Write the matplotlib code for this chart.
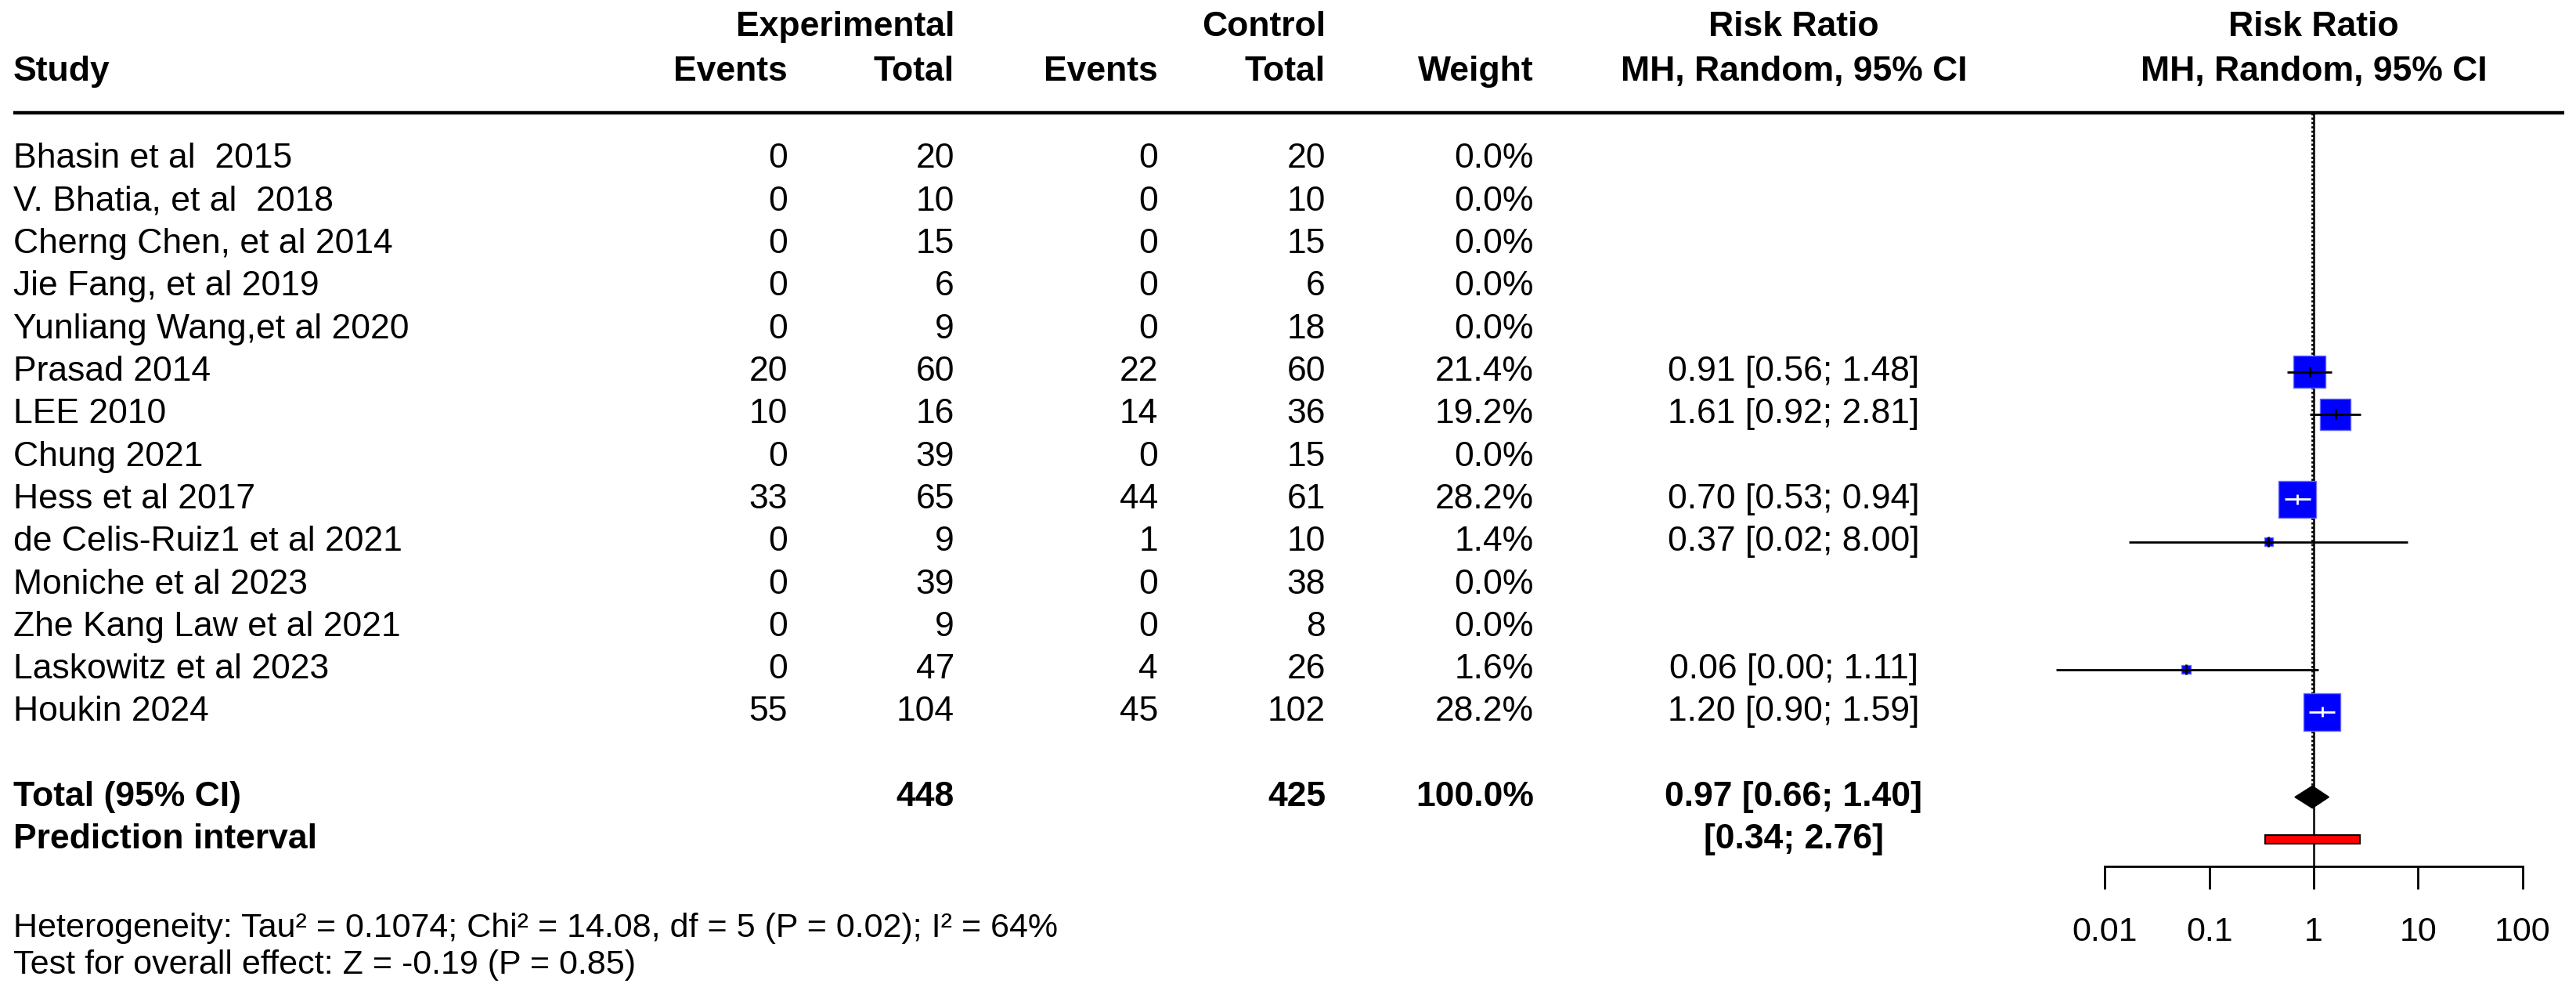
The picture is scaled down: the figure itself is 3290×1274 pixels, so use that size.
import numpy as np
import matplotlib.pyplot as plt

plt.rcParams['font.family'] = ['Liberation Sans', 'DejaVu Sans']

studies = ["Bhasin et al  2015", "V. Bhatia, et al  2018", "Cherng Chen, et al 2014",
           "Jie Fang, et al 2019", "Yunliang Wang,et al 2020", "Prasad 2014", "LEE 2010",
           "Chung 2021", "Hess et al 2017", "de Celis-Ruiz1 et al 2021", "Moniche et al 2023",
           "Zhe Kang Law et al 2021", "Laskowitz et al 2023", "Houkin 2024"]
exp_events = [0, 0, 0, 0, 0, 20, 10, 0, 33, 0, 0, 0, 0, 55]
exp_total = [20, 10, 15, 6, 9, 60, 16, 39, 65, 9, 39, 9, 47, 104]
ctrl_events = [0, 0, 0, 0, 0, 22, 14, 0, 44, 1, 0, 0, 4, 45]
ctrl_total = [20, 10, 15, 6, 18, 60, 36, 15, 61, 10, 38, 8, 26, 102]
weight = [0.0, 0.0, 0.0, 0.0, 0.0, 21.4, 19.2, 0.0, 28.2, 1.4, 0.0, 0.0, 1.6, 28.2]
nan = np.nan
rr = [nan, nan, nan, nan, nan, 0.91, 1.61, nan, 0.70, 0.37, nan, nan, 0.06, 1.20]
ci_lo = [nan, nan, nan, nan, nan, 0.56, 0.92, nan, 0.53, 0.017, nan, nan, 0.0034, 0.90]
ci_hi = [nan, nan, nan, nan, nan, 1.48, 2.81, nan, 0.94, 8.00, nan, nan, 1.11, 1.59]

total_exp = 448
total_ctrl = 425
pooled = [0.97, 0.66, 1.40]
pred_int = [0.34, 2.76]
het_text = "Heterogeneity: Tau² = 0.1074; Chi² = 14.08, df = 5 (P = 0.02); I² = 64%"
test_text = "Test for overall effect: Z = -0.19 (P = 0.85)"
ticks = [0.01, 0.1, 1, 10, 100]
tick_labels = ["0.01", "0.1", "1", "10", "100"]

# layout (pixels / rows)
W, H = 3290, 1274
row0, rowh = 203, 54.3
ytop, ybot = -row0 / rowh, (H - row0) / rowh
px_dec, x_one = 133.3, 2955
fs = 32
fs_small = 31

fig = plt.figure(figsize=(W / 100, H / 100), dpi=100)
ax = fig.add_axes([0, 0, 1, 1])
ax.set_xlim(0, W)
ax.set_ylim(ybot, ytop)
ax.axis('off')

n = len(studies)
rows = np.arange(n)
r_total = n + 1
r_pred = n + 2

# headers
hb = dict(fontsize=fs, fontweight='bold', va='center')
ax.text(17, -2.05, "Study", ha='left', **hb)
ax.text(1219, -3.1, "Experimental", ha='right', **hb)
ax.text(1006, -2.05, "Events", ha='right', **hb)
ax.text(1219, -2.05, "Total", ha='right', **hb)
ax.text(1693, -3.1, "Control", ha='right', **hb)
ax.text(1479, -2.05, "Events", ha='right', **hb)
ax.text(1693, -2.05, "Total", ha='right', **hb)
ax.text(1959, -2.05, "Weight", ha='right', **hb)
ax.text(2291, -3.1, "Risk Ratio", ha='center', **hb)
ax.text(2291, -2.05, "MH, Random, 95% CI", ha='center', **hb)
ax.text(2955, -3.1, "Risk Ratio", ha='center', **hb)
ax.text(2955, -2.05, "MH, Random, 95% CI", ha='center', **hb)
ax.hlines(-1.09, 17, 3275, color='black', lw=3.2)

# study rows
for i in range(n):
    t = dict(fontsize=fs, va='center')
    ax.text(17, i, studies[i], ha='left', **t)
    ax.text(1006, i, str(exp_events[i]), ha='right', **t)
    ax.text(1219, i, str(exp_total[i]), ha='right', **t)
    ax.text(1479, i, str(ctrl_events[i]), ha='right', **t)
    ax.text(1693, i, str(ctrl_total[i]), ha='right', **t)
    ax.text(1959, i, f"{weight[i]:.1f}%", ha='right', **t)
    if not np.isnan(rr[i]):
        ax.text(2291, i, f"{rr[i]:.2f} [{ci_lo[i]:.2f}; {ci_hi[i]:.2f}]", ha='center', **t)

# totals
ax.text(17, r_total, "Total (95% CI)", ha='left', **hb)
ax.text(1219, r_total, str(total_exp), ha='right', **hb)
ax.text(1693, r_total, str(total_ctrl), ha='right', **hb)
ax.text(1959, r_total, f"{sum(weight):.1f}%", ha='right', **hb)
ax.text(2291, r_total, f"{pooled[0]:.2f} [{pooled[1]:.2f}; {pooled[2]:.2f}]", ha='center', **hb)
ax.text(17, r_pred, "Prediction interval", ha='left', **hb)
ax.text(2291, r_pred, f"[{pred_int[0]:.2f}; {pred_int[1]:.2f}]", ha='center', **hb)

ax.text(17, 18.08, het_text, ha='left', va='center', fontsize=fs_small)
ax.text(17, 18.95, test_text, ha='left', va='center', fontsize=fs_small)

# forest panel
x0, x1 = 2550, 3290
fa = fig.add_axes([x0 / W, 0, (x1 - x0) / W, 1])
fa.patch.set_alpha(0)
fa.set_xscale('log')
fa.set_xlim(10 ** ((x0 - x_one) / px_dec), 10 ** ((x1 - x_one) / px_dec))
fa.set_ylim(ybot, ytop)
for s in ['top', 'left', 'right']:
    fa.spines[s].set_visible(False)
fa.spines['bottom'].set_position(('data', 16.63))
fa.spines['bottom'].set_bounds(ticks[0], ticks[-1])
fa.spines['bottom'].set_linewidth(2)
fa.set_yticks([])
fa.set_xticks(ticks)
fa.set_xticklabels(tick_labels)
fa.minorticks_off()
fa.tick_params(axis='x', direction='out', length=21, width=2, pad=25, labelsize=fs_small)

# reference line and random-effects line
fa.vlines(1, -1.09, 16.63, color='black', lw=1.8)
fa.vlines(pooled[0], -1.09, r_total - 0.27, color='black', lw=2, linestyles=(0, (1, 1)))

rr_a = np.array(rr)
lo_a = np.array(ci_lo)
hi_a = np.array(ci_hi)
w_a = np.array(weight)
ok = ~np.isnan(rr_a)
side_px = 9.0 * np.sqrt(w_a[ok])
fa.scatter(rr_a[ok], rows[ok], marker='s', s=(side_px * 0.72) ** 2,
           color='#0000ff', edgecolors='#6a6aff', linewidths=1, zorder=3)
half = side_px / 2 / px_dec
inside = (np.log10(lo_a[ok]) > np.log10(rr_a[ok]) - half) & (np.log10(hi_a[ok]) < np.log10(rr_a[ok]) + half)
line_cols = ['white' if v else 'black' for v in inside]
fa.hlines(rows[ok], lo_a[ok], hi_a[ok], colors=line_cols, lw=2, zorder=4)
fa.vlines(rr_a[ok], rows[ok] - 0.12, rows[ok] + 0.12, colors=line_cols, lw=2, zorder=4)

# pooled diamond and prediction interval
fa.fill([pooled[1], pooled[0], pooled[2], pooled[0]],
        [r_total, r_total - 0.26, r_total, r_total + 0.26], color='black', zorder=3)
fa.barh(r_pred, pred_int[1] - pred_int[0], left=pred_int[0], height=0.2,
        color='red', edgecolor='black', linewidth=1.5, zorder=3)

fig.savefig('out.png', dpi=100)
